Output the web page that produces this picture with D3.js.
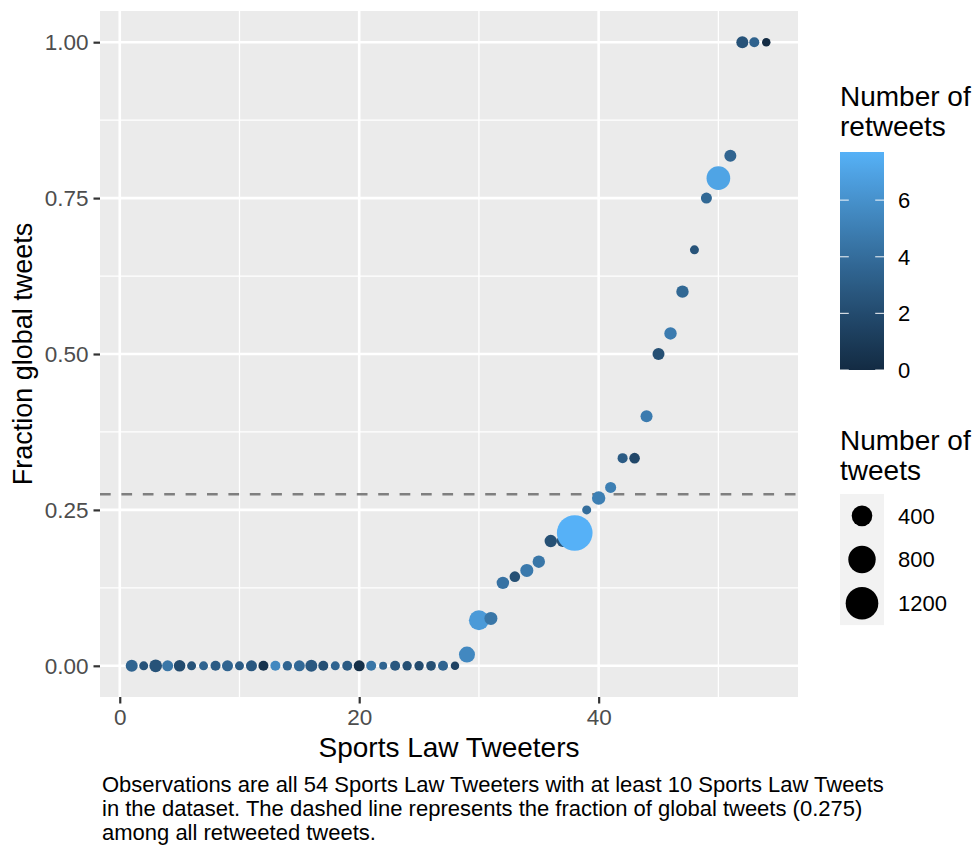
<!DOCTYPE html>
<html>
<head>
<meta charset="utf-8">
<script src="https://cdn.jsdelivr.net/npm/d3@7"></script>
<style>
  html, body { margin: 0; padding: 0; background: #ffffff; }
  svg { display: block; font-family: "Liberation Sans", Arial, Helvetica, sans-serif; }
</style>
</head>
<body>
<svg id="chart" width="973" height="845"></svg>
<script>
// Rank of each Sports Law Tweeter (ordered by fraction of global tweets)
const tweeterRank = [1, 2, 3, 4, 5, 6, 7, 8, 9, 10, 11, 12, 13, 14, 15, 16, 17, 18,
  19, 20, 21, 22, 23, 24, 25, 26, 27, 28, 29, 30, 31, 32, 33, 34, 35, 36, 37, 38,
  39, 40, 41, 42, 43, 44, 45, 46, 47, 48, 49, 50, 51, 52, 53, 54];

// Fraction of each tweeter's tweets that are global
const fractionGlobal = [0, 0, 0, 0, 0, 0, 0, 0, 0, 0, 0, 0, 0, 0, 0, 0, 0, 0,
  0, 0, 0, 0, 0, 0, 0, 0, 0, 0, 0.018, 0.073, 0.076, 0.133, 0.143, 0.153, 0.167, 0.2, 0.2, 0.213,
  0.25, 0.269, 0.286, 0.333, 0.333, 0.4, 0.5, 0.533, 0.6, 0.667, 0.75, 0.782, 0.818, 1, 1, 1];

// Number of Sports Law Tweets per tweeter
const numTweets = [90, 34, 107, 69, 80, 34, 34, 50, 69, 34, 69, 50, 50, 40, 69, 90, 50, 34,
  50, 69, 50, 21, 50, 40, 40, 45, 50, 27, 207, 371, 115, 100, 60, 115, 100, 100, 90, 1475,
  34, 125, 69, 50, 60, 90, 90, 100, 100, 34, 69, 560, 90, 90, 50, 27];

// Average number of retweets per tweeter
const numRetweets = [3.5, 2.5, 2.5, 4.5, 2.0, 2.5, 3.5, 3.0, 3.5, 3.0, 2.8, 0.5, 5.5, 3.5, 3.8, 2.8, 2.3, 3.5,
  3.0, 0.3, 4.5, 3.5, 2.8, 2.3, 2.0, 2.3, 3.5, 1.5, 5.5, 6.5, 4.5, 4.3, 2.3, 4.7, 4.5, 2.3, 2.5, 7.7,
  4.0, 5.0, 5.0, 3.0, 1.8, 4.8, 2.3, 4.8, 3.7, 2.5, 3.7, 7.0, 3.5, 2.5, 3.4, 0];

// Fraction of global tweets among all retweeted tweets
const overallFraction = 0.275;

// Axis and legend breaks
const xTicks = [0, 20, 40];
const xMinorTicks = [10, 30, 50];
const yTicks = [0, 0.25, 0.5, 0.75, 1];
const yMinorTicks = [0.125, 0.375, 0.625, 0.875];
const colorBreaks = [0, 2, 4, 6];
const sizeBreaks = [400, 800, 1200];

const captionLines = [
  "Observations are all 54 Sports Law Tweeters with at least 10 Sports Law Tweets",
  "in the dataset. The dashed line represents the fraction of global tweets (0.275)",
  "among all retweeted tweets."
];

const points = tweeterRank.map((r, i) => ({
  rank: r, frac: fractionGlobal[i], tweets: numTweets[i], retweets: numRetweets[i]
}));

// ---- layout ----
const panel = { left: 100, top: 11, right: 798, bottom: 697 };
const svg = d3.select("#chart");

// ggplot-style 5% expansion of the data range
function expand(ext) {
  const pad = (ext[1] - ext[0]) * 0.05;
  return [ext[0] - pad, ext[1] + pad];
}

const x = d3.scaleLinear().domain(expand(d3.extent(tweeterRank))).range([panel.left, panel.right]);
const y = d3.scaleLinear().domain(expand(d3.extent(fractionGlobal))).range([panel.bottom, panel.top]);

const color = d3.scaleLinear()
  .domain([0, d3.max(numRetweets)])
  .range(["#132B43", "#56B1F7"])
  .interpolate(d3.interpolateLab);

const size = d3.scaleSqrt()
  .domain(d3.extent(numTweets))
  .range([4.0, 17.85]);

// ---- panel background & grid ----
svg.append("rect")
  .attr("x", panel.left).attr("y", panel.top)
  .attr("width", panel.right - panel.left).attr("height", panel.bottom - panel.top)
  .attr("fill", "#EBEBEB");

const grid = svg.append("g");
grid.selectAll(".xminor").data(xMinorTicks).join("line")
  .attr("x1", d => x(d)).attr("x2", d => x(d))
  .attr("y1", panel.top).attr("y2", panel.bottom)
  .attr("stroke", "#ffffff").attr("stroke-width", 1.3);
grid.selectAll(".yminor").data(yMinorTicks).join("line")
  .attr("y1", d => y(d)).attr("y2", d => y(d))
  .attr("x1", panel.left).attr("x2", panel.right)
  .attr("stroke", "#ffffff").attr("stroke-width", 1.3);
grid.selectAll(".xmajor").data(xTicks).join("line")
  .attr("x1", d => x(d)).attr("x2", d => x(d))
  .attr("y1", panel.top).attr("y2", panel.bottom)
  .attr("stroke", "#ffffff").attr("stroke-width", 2.6);
grid.selectAll(".ymajor").data(yTicks).join("line")
  .attr("y1", d => y(d)).attr("y2", d => y(d))
  .attr("x1", panel.left).attr("x2", panel.right)
  .attr("stroke", "#ffffff").attr("stroke-width", 2.6);

// ---- axes ----
const xAxis = d3.axisBottom(x).tickValues(xTicks).tickSize(6.5).tickPadding(6).tickFormat(d3.format("d"));
const yAxis = d3.axisLeft(y).tickValues(yTicks).tickSize(6.5).tickPadding(5).tickFormat(d3.format(".2f"));

function styleAxis(g) {
  g.select(".domain").remove();
  g.selectAll(".tick line").attr("stroke", "#333333").attr("stroke-width", 2.2);
  g.selectAll(".tick text")
    .attr("fill", "#4D4D4D")
    .style("font-size", "22.5px")
    .style("font-family", "'Liberation Sans', Arial, Helvetica, sans-serif");
}

svg.append("g").attr("transform", `translate(0,${panel.bottom})`).call(xAxis).call(styleAxis);
svg.append("g").attr("transform", `translate(${panel.left},0)`).call(yAxis).call(styleAxis);

// axis titles
svg.append("text")
  .attr("x", (panel.left + panel.right) / 2).attr("y", 757)
  .attr("text-anchor", "middle").attr("fill", "#000")
  .style("font-size", "28px")
  .text("Sports Law Tweeters");

svg.append("text")
  .attr("transform", `translate(32,${(panel.top + panel.bottom) / 2}) rotate(-90)`)
  .attr("text-anchor", "middle").attr("fill", "#000")
  .style("font-size", "27px")
  .text("Fraction global tweets");

// ---- reference line ----
svg.append("line")
  .attr("x1", panel.left).attr("x2", panel.right)
  .attr("y1", y(overallFraction)).attr("y2", y(overallFraction))
  .attr("stroke", "#7F7F7F").attr("stroke-width", 2.6)
  .attr("stroke-dasharray", "10.7,10.7");

// ---- points ----
svg.append("g").selectAll("circle").data(points).join("circle")
  .attr("cx", d => x(d.rank))
  .attr("cy", d => y(d.frac))
  .attr("r", d => size(d.tweets))
  .attr("fill", d => color(d.retweets));

// ---- colour legend ----
const cb = { x: 840, top: 152, bottom: 370, width: 44 };
const cbScale = d3.scaleLinear().domain(color.domain()).range([cb.bottom, cb.top]);

const defs = svg.append("defs");
const grad = defs.append("linearGradient").attr("id", "retweetGrad")
  .attr("x1", 0).attr("y1", 1).attr("x2", 0).attr("y2", 0);
d3.range(0, 1.0001, 0.05).forEach(t => {
  grad.append("stop").attr("offset", t)
    .attr("stop-color", color(color.domain()[0] + t * (color.domain()[1] - color.domain()[0])));
});

const legendTitle = (lines, x0, y0) => {
  const t = svg.append("text").attr("x", x0).attr("y", y0).attr("fill", "#000").style("font-size", "28px");
  lines.forEach((l, i) => t.append("tspan").attr("x", x0).attr("dy", i === 0 ? 0 : 30).text(l));
};

legendTitle(["Number of", "retweets"], 840, 106);

svg.append("rect")
  .attr("x", cb.x).attr("y", cb.top)
  .attr("width", cb.width).attr("height", cb.bottom - cb.top)
  .attr("fill", "url(#retweetGrad)");

const cbTicks = svg.append("g");
colorBreaks.forEach(v => {
  const yy = cbScale(v);
  cbTicks.append("line").attr("x1", cb.x).attr("x2", cb.x + cb.width / 5)
    .attr("y1", yy).attr("y2", yy).attr("stroke", "#fff").attr("stroke-width", 1.2).attr("opacity", 0.8);
  cbTicks.append("line").attr("x1", cb.x + cb.width * 4 / 5).attr("x2", cb.x + cb.width)
    .attr("y1", yy).attr("y2", yy).attr("stroke", "#fff").attr("stroke-width", 1.2).attr("opacity", 0.8);
  cbTicks.append("text").attr("x", 898).attr("y", yy).attr("dy", "0.36em")
    .attr("fill", "#000").style("font-size", "22px").text(v);
});

// ---- size legend ----
legendTitle(["Number of", "tweets"], 840, 450);

const keyTop = 494, keyH = 43.7, keyW = 44;
svg.append("rect").attr("x", 840).attr("y", keyTop)
  .attr("width", keyW).attr("height", keyH * sizeBreaks.length)
  .attr("fill", "#F2F2F2");

sizeBreaks.forEach((v, i) => {
  const cy = keyTop + keyH * (i + 0.5);
  svg.append("circle").attr("cx", 840 + keyW / 2).attr("cy", cy)
    .attr("r", size(v)).attr("fill", "#000");
  svg.append("text").attr("x", 898).attr("y", cy).attr("dy", "0.36em")
    .attr("fill", "#000").style("font-size", "22px").text(v);
});

// ---- caption ----
const cap = svg.append("text").attr("x", 102).attr("y", 792).attr("fill", "#000").style("font-size", "22px");
captionLines.forEach((l, i) => cap.append("tspan").attr("x", 102).attr("dy", i === 0 ? 0 : 24).text(l));
</script>
</body>
</html>
